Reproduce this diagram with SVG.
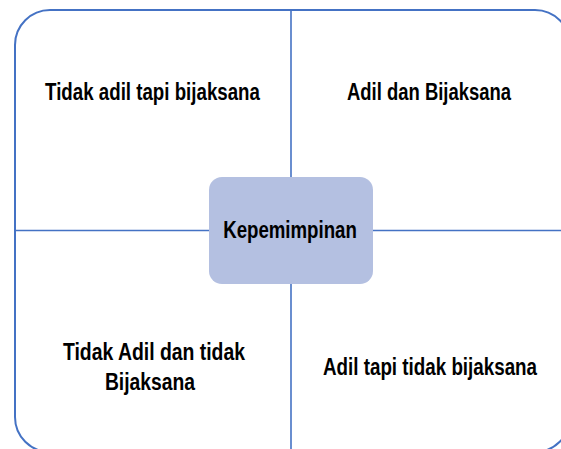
<svg xmlns="http://www.w3.org/2000/svg" width="561" height="449" viewBox="0 0 561 449">
<style>
.frame{fill:none;stroke:#4472C4;stroke-width:2}
.ln{stroke:#4472C4;stroke-width:1.6;fill:none}
.box{fill:#B4C0E1;stroke:none}
.t{font-family:"Liberation Sans",Arial,sans-serif;font-weight:bold;font-size:23px;fill:#000;text-anchor:middle}
</style>
<rect width="561" height="449" fill="#fff"/>
<rect class="frame" x="15" y="10" width="555" height="442" rx="35" ry="35"/>
<g id="connectors">
<line class="ln" x1="291" y1="10" x2="291" y2="177"/>
<line class="ln" x1="291" y1="284" x2="291" y2="449"/>
<line class="ln" x1="15" y1="230.5" x2="209" y2="230.5"/>
<line class="ln" x1="373" y1="230.5" x2="561" y2="230.5"/>
</g>
<g id="q1"><text class="t" transform="translate(152.5,99.5) scale(0.82,1)" textLength="262" lengthAdjust="spacingAndGlyphs">Tidak adil tapi bijaksana</text></g>
<g id="q2"><text class="t" transform="translate(429,99.5) scale(0.82,1)" textLength="200" lengthAdjust="spacingAndGlyphs">Adil dan Bijaksana</text></g>
<g id="center">
<rect class="box" x="209" y="177" width="164" height="107" rx="13" ry="13"/>
<text class="t" transform="translate(290,238) scale(0.82,1)" textLength="163" lengthAdjust="spacingAndGlyphs">Kepemimpinan</text>
</g>
<g id="q3">
<text class="t" transform="translate(154,359.5) scale(0.82,1)" textLength="222" lengthAdjust="spacingAndGlyphs">Tidak Adil dan tidak</text>
<text class="t" transform="translate(150,389.5) scale(0.82,1)" textLength="110" lengthAdjust="spacingAndGlyphs">Bijaksana</text>
</g>
<g id="q4"><text class="t" transform="translate(430,374.5) scale(0.82,1)" textLength="261" lengthAdjust="spacingAndGlyphs">Adil tapi tidak bijaksana</text></g>
</svg>
